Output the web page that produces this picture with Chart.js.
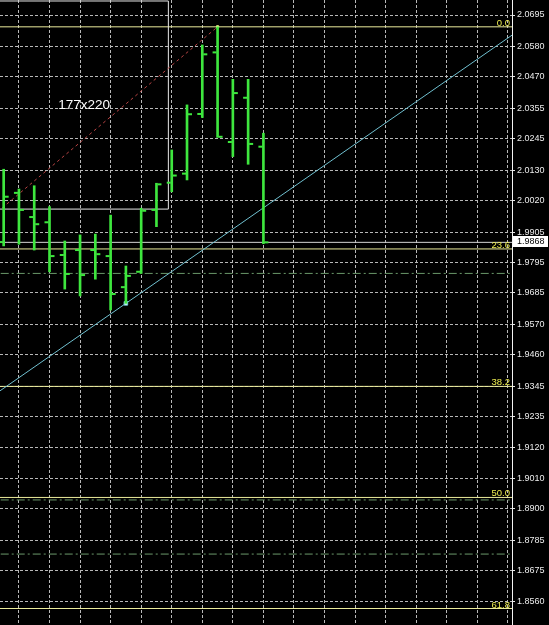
<!DOCTYPE html>
<html>
<head>
<meta charset="utf-8">
<script src="https://cdn.jsdelivr.net/npm/chart.js@4.4.1/dist/chart.umd.min.js"></script>
<style>
html, body { margin: 0; padding: 0; background: #000; }
canvas { display: block; }
</style>
</head>
<body>
<canvas id="chart" width="549" height="625"></canvas>
<script>
// OHLC bars, index 0 = left-most bar
const opens  = [1.9869, 2.0048, 1.9960, 1.9941, 1.9822, 1.9840, 1.9840, 1.9818, 1.9705, 1.9761, 1.9986, 2.0085, 2.0118, 2.0335, 2.0559, 2.0233, 2.0394, 2.0216];
const highs  = [2.0134, 2.0062, 2.0074, 1.9998, 1.9873, 1.9895, 1.9898, 1.9967, 1.9782, 1.9992, 2.0083, 2.0204, 2.0368, 2.0586, 2.0652, 2.0461, 2.0461, 2.0265];
const lows   = [1.9855, 1.9861, 1.9840, 1.9761, 1.9698, 1.9673, 1.9734, 1.9622, 1.9646, 1.9755, 1.9925, 2.0052, 2.0095, 2.0322, 2.0250, 2.0180, 2.0152, 1.9863];
const closes = [2.0034, 1.9986, 1.9934, 1.9818, 1.9753, 1.9749, 1.9825, 1.9680, 1.9746, 1.9983, 2.0079, 2.0111, 2.0334, 2.0552, 2.0252, 2.0411, 2.0226, 1.9868];

// price axis labels
const priceTicks = [2.0695, 2.0580, 2.0470, 2.0355, 2.0245, 2.0130, 2.0020, 1.9905, 1.9795, 1.9685,
                    1.9570, 1.9460, 1.9345, 1.9235, 1.9120, 1.9010, 1.8900, 1.8785, 1.8675, 1.8560];

// fibonacci levels
const fiboNames  = ['0.0', '23.6', '38.2', '50.0', '61.8'];
const fiboLevels = [2.0652, 1.9844, 1.9344, 1.8940, 1.8536];

// green dash-dot horizontal lines
const dashLevels = [1.9755, 1.8931, 1.8734];

const bidPrice = 1.9868;

// trend line (through the low of bar 8)
const trendX = [-1, 35];
const trendY = [1.92985, 2.06885];

// fibo base line (from bar 14 high down to the left)
const fiboLineX = [-1, 14];
const fiboLineY = [1.9951, 2.0652];

// rectangle with its size label
const boxX = [-1, 10.78];
const boxY = [1.9989, 2.0746];
const boxLabel = '177x220';

// anchor points
const anchorX = [14, 8];
const anchorY = [2.0652, 1.9646];

// visible window
const xMin = -0.24, xMax = 33.27;
const yMin = 1.8476, yMax = 2.07496;

const barColor = '#3ee63e';
const gridColor = '#b8b8b8';
const fiboColor = '#ecec9c';

function hLine(v) {
    return [{x: xMin - 1, y: v}, {x: xMax + 1, y: v}];
}

const gridBars = [];
for (let i = 1; i <= 33; i += 2) gridBars.push(i);

const datasets = [];

datasets.push({
    type: 'bar',
    data: highs.map((h, i) => ({x: i, y: [lows[i], h]})),
    backgroundColor: barColor,
    barThickness: 2,
    borderSkipped: false,
    order: 0
});

fiboLevels.forEach(v => datasets.push({
    data: hLine(v), borderColor: fiboColor, borderWidth: 1, pointRadius: 0, order: 2
}));

dashLevels.forEach(v => datasets.push({
    data: hLine(v), borderColor: '#6a986a', borderWidth: 1, borderDash: [8, 3, 2, 3], pointRadius: 0, order: 2
}));

datasets.push({
    data: hLine(bidPrice), borderColor: '#d4d4d4', borderWidth: 1, pointRadius: 0, order: 2
});

datasets.push({
    data: trendX.map((x, i) => ({x: x, y: trendY[i]})),
    borderColor: '#70c0d0', borderWidth: 1, pointRadius: 0, order: 1
});

datasets.push({
    data: fiboLineX.map((x, i) => ({x: x, y: fiboLineY[i]})),
    borderColor: '#b84444', borderWidth: 1, borderDash: [3, 3], pointRadius: 0, order: 1
});

datasets.push({
    data: [
        {x: boxX[0], y: boxY[0]}, {x: boxX[1], y: boxY[0]},
        {x: boxX[1], y: boxY[1]}, {x: boxX[0], y: boxY[1]}
    ],
    borderColor: '#e8e8e8', borderWidth: 1, pointRadius: 0, order: 1
});

datasets.push({
    data: [{x: anchorX[0], y: anchorY[0]}],
    showLine: false, pointStyle: 'rect', pointRadius: 1.5,
    backgroundColor: '#ffffb0', borderColor: '#ffff90', borderWidth: 1, order: 0
});
datasets.push({
    data: [{x: anchorX[1], y: anchorY[1]}],
    showLine: false, pointStyle: 'rect', pointRadius: 2.5,
    backgroundColor: '#e8ffff', borderColor: '#70c8d8', borderWidth: 1, order: 0
});

// open/close ticks, level labels and the price box
const extras = {
    id: 'extras',
    afterDatasetsDraw(chart) {
        const ctx = chart.ctx;
        const x = chart.scales.x, y = chart.scales.y;
        const area = chart.chartArea;
        const bars = chart.getDatasetMeta(0).data;
        ctx.save();
        ctx.fillStyle = barColor;
        bars.forEach((b, i) => {
            const po = y.getPixelForValue(opens[i]);
            const pc = y.getPixelForValue(closes[i]);
            ctx.fillRect(b.x - 5, po - 1, 4, 2);
            ctx.fillRect(b.x + 1, pc - 1, 4, 2);
        });

        ctx.font = '9.5px "Liberation Sans"';
        ctx.fillStyle = '#eeee50';
        ctx.textAlign = 'right';
        ctx.textBaseline = 'alphabetic';
        fiboLevels.forEach((v, i) => {
            ctx.fillText(fiboNames[i], area.right - 2, y.getPixelForValue(v) - 1);
        });

        // size label centred in the visible part of the box
        const bl = Math.max(area.left, x.getPixelForValue(boxX[0]));
        const br = Math.min(area.right, x.getPixelForValue(boxX[1]));
        const bt = Math.max(area.top, y.getPixelForValue(boxY[1]));
        const bb = Math.min(area.bottom, y.getPixelForValue(boxY[0]));
        ctx.font = '13.5px "Liberation Sans"';
        ctx.fillStyle = '#ffffff';
        ctx.textAlign = 'center';
        ctx.textBaseline = 'middle';
        ctx.fillText(boxLabel, (bl + br) / 2, (bt + bb) / 2);
        ctx.restore();
    },
    afterDraw(chart) {
        const ctx = chart.ctx;
        const y = chart.scales.y;
        const py = Math.round(y.getPixelForValue(bidPrice));
        ctx.save();
        ctx.fillStyle = '#ffffff';
        ctx.fillRect(y.left + 1, py - 6, y.right - y.left - 2, 11);
        ctx.fillStyle = '#000000';
        ctx.font = '9px "Liberation Sans"';
        ctx.textAlign = 'left';
        ctx.textBaseline = 'middle';
        ctx.fillText(bidPrice.toFixed(4), y.left + 5, py - 0.5);
        ctx.restore();
    }
};

new Chart(document.getElementById('chart'), {
    type: 'line',
    data: { datasets: datasets },
    options: {
        responsive: false,
        animation: false,
        devicePixelRatio: 1,
        layout: { padding: 0, autoPadding: false },
        elements: { line: { tension: 0, fill: false } },
        plugins: { legend: { display: false }, tooltip: { enabled: false } },
        scales: {
            x: {
                type: 'linear',
                min: xMin,
                max: xMax,
                offset: false,
                afterBuildTicks: s => { s.ticks = gridBars.map(v => ({value: v})); },
                afterFit: s => { s.height = 0; s.paddingLeft = 0; s.paddingRight = 0; },
                ticks: { display: false },
                grid: { color: gridColor, drawTicks: false, offset: false },
                border: { display: false, dash: [3, 2] }
            },
            y: {
                type: 'linear',
                position: 'right',
                min: yMin,
                max: yMax,
                afterBuildTicks: s => { s.ticks = priceTicks.map(v => ({value: v})); },
                afterFit: s => { s.width = 37; s.paddingTop = 0; s.paddingBottom = 0; },
                ticks: {
                    color: '#ececec',
                    font: { family: 'Liberation Sans', size: 9 },
                    padding: 2,
                    autoSkip: false,
                    callback: v => v.toFixed(4)
                },
                grid: { color: gridColor, tickLength: 3, tickColor: '#e6e6e6', tickBorderDash: [] },
                border: { display: true, color: '#f4f4f4', width: 1, dash: [3, 2] }
            }
        }
    },
    plugins: [extras]
});
</script>
</body>
</html>
